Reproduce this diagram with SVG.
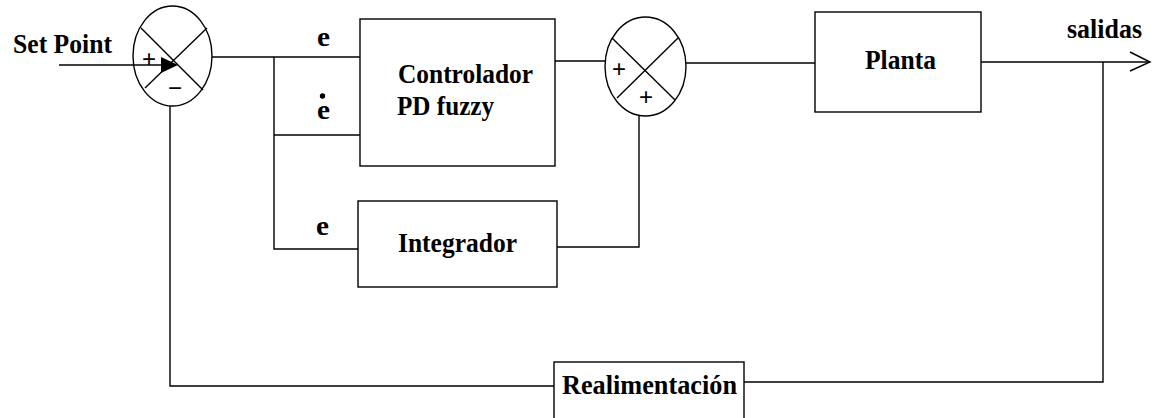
<svg xmlns="http://www.w3.org/2000/svg" width="1153" height="418" viewBox="0 0 1153 418">
<style>
.ln{fill:none;stroke:#000;stroke-width:1.4}
.bx{fill:#fff;stroke:#000;stroke-width:1.4}
.el{fill:none;stroke:#000;stroke-width:1.4}
.t{font-family:"Liberation Serif","Times New Roman",serif;font-weight:bold;font-size:27px;fill:#000}
.s{font-family:"Liberation Sans",Arial,sans-serif;font-size:24px;fill:#000;text-anchor:middle}
</style>
<rect width="1153" height="418" fill="#fff"/>
<g id="connectors">
<polyline class="ln" points="212,57 360,57"/>
<polyline class="ln" points="274,57 274,249 358,249"/>
<polyline class="ln" points="274,135 360,135"/>
<polyline class="ln" points="555,61 605,61"/>
<polyline class="ln" points="557,247 639,247 639,116"/>
<polyline class="ln" points="686,63 815,63"/>
<polyline class="ln" points="981,62 1150,62"/>
<polyline class="ln" points="1130,52 1150,62 1130,71"/>
<polyline class="ln" points="1103,62 1103,382 744,382"/>
<polyline class="ln" points="554,386 170,386 170,106"/>
<line class="ln" x1="59" y1="65" x2="165" y2="65" stroke-width="2.5"/>
<polygon points="161,57 178,65 161,73" fill="#000"/>
<text class="t" x="13" y="53" textLength="99" lengthAdjust="spacingAndGlyphs">Set Point</text>
<text class="t" x="317" y="46" textLength="13" lengthAdjust="spacingAndGlyphs">e</text>
<circle cx="322.5" cy="96" r="2.7" fill="#000"/>
<text class="t" x="317" y="119" textLength="13" lengthAdjust="spacingAndGlyphs">e</text>
<text class="t" x="316" y="235" textLength="13" lengthAdjust="spacingAndGlyphs">e</text>
<text class="t" x="1067" y="38" textLength="75" lengthAdjust="spacingAndGlyphs">salidas</text>
</g>
<g id="sum1">
<ellipse class="el" cx="172.5" cy="56" rx="39.5" ry="50"/>
<line class="ln" x1="141" y1="28" x2="203" y2="90"/>
<line class="ln" x1="207" y1="28" x2="145" y2="88"/>
<text class="s" x="149" y="67">+</text>
<text class="s" x="175" y="96">−</text>
</g>
<g id="controlador">
<rect class="bx" x="360" y="19" width="195" height="147"/>
<text class="t" x="398" y="83" textLength="135" lengthAdjust="spacingAndGlyphs">Controlador</text>
<text class="t" x="397" y="115" textLength="97" lengthAdjust="spacingAndGlyphs">PD fuzzy</text>
</g>
<g id="integrador">
<rect class="bx" x="358" y="201" width="199" height="86"/>
<text class="t" x="398" y="252" textLength="119" lengthAdjust="spacingAndGlyphs">Integrador</text>
</g>
<g id="sum2">
<ellipse class="el" cx="645.5" cy="66.5" rx="40.5" ry="49.5"/>
<line class="ln" x1="612" y1="38" x2="675" y2="100"/>
<line class="ln" x1="678" y1="38" x2="617" y2="98"/>
<text class="s" x="619" y="77">+</text>
<text class="s" x="646" y="105">+</text>
</g>
<g id="planta">
<rect class="bx" x="815" y="12" width="166" height="100"/>
<text class="t" x="865" y="69" textLength="71" lengthAdjust="spacingAndGlyphs">Planta</text>
</g>
<g id="realimentacion">
<rect class="bx" x="554" y="362" width="190" height="60"/>
<text class="t" x="562" y="394" textLength="175" lengthAdjust="spacingAndGlyphs">Realimentación</text>
</g>
</svg>
